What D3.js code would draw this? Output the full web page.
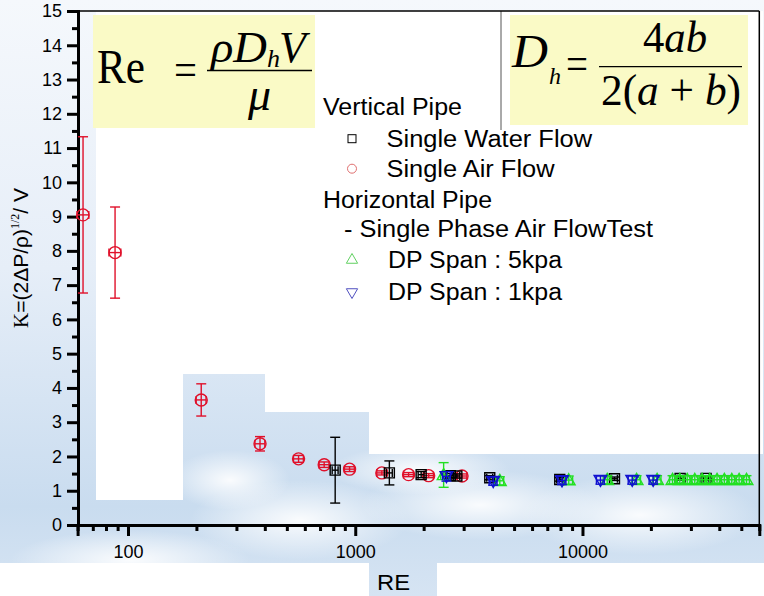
<!DOCTYPE html>
<html>
<head>
<meta charset="utf-8">
<script src="https://cdn.jsdelivr.net/npm/d3@7/dist/d3.min.js"></script>
<style>
html,body{margin:0;padding:0;background:#fff;}
svg{display:block;}
</style>
</head>
<body>
<script>
// ---------------- DATA ----------------
// Vertical pipe, single air flow (red circles)
const airRe   = [63.4, 87.7, 210, 381, 563, 730, 944, 1309, 1717, 2104, 2951];
const airK    = [9.05, 7.95, 3.65, 2.37, 1.93, 1.76, 1.63, 1.52, 1.47, 1.44, 1.43];
const airKErr = [2.28, 1.33, 0.47, 0.21, 0.10, 0.08, 0.07, 0.06, 0.06, 0.06, 0.06];
const airReErr = [0.06, 0.06, 0.05, 0.05, 0.05, 0.05, 0.05, 0.05, 0.05, 0.05, 0.05];

// Vertical pipe, single water flow (black squares)
const waterRe   = [816, 1413, 1950, 2620, 2800, 3908, 7943, 13830, 26900, 35000];
const waterK    = [1.60, 1.52, 1.47, 1.44, 1.43, 1.38, 1.33, 1.35, 1.36, 1.36];
const waterKErr = [0.96, 0.35, 0.09, 0.06, 0.06, 0.06, 0.05, 0.05, 0.05, 0.05];
const waterReErr = [0.03, 0.03, 0.03, 0.03, 0.03, 0.03, 0.03, 0.03, 0.03, 0.03];

// Horizontal pipe, DP span 5kpa (green up triangles)
const span5Re   = [2449, 4327, 8700, 12850, 17300, 21300, 24900, 26800, 28900, 31200, 33600, 36300, 39100, 42100, 45400, 48900, 52700];
const span5K    = [1.46, 1.29, 1.31, 1.32, 1.32, 1.32, 1.32, 1.32, 1.32, 1.32, 1.32, 1.32, 1.32, 1.32, 1.32, 1.32, 1.32];
const span5KErr = [0.36, 0.12, 0.12, 0.12, 0.12, 0.12, 0.12, 0.12, 0.12, 0.12, 0.12, 0.12, 0.12, 0.12, 0.12, 0.12, 0.12];
const span5ReErr = [0.03, 0.04, 0.04, 0.04, 0.04, 0.04, 0.03, 0.03, 0.03, 0.03, 0.03, 0.03, 0.03, 0.03, 0.03, 0.03, 0.03];

// Horizontal pipe, DP span 1kpa (blue down triangles)
const span1Re   = [2520, 4046, 8128, 12000, 16560, 20470];
const span1K    = [1.42, 1.28, 1.30, 1.31, 1.31, 1.31];
const span1KErr = [0.14, 0.12, 0.12, 0.12, 0.12, 0.12];
const span1ReErr = [0.04, 0.04, 0.04, 0.04, 0.04, 0.04];

// Axes
const xDomain = [60, 60000];
const yDomain = [0, 15];
const xMajorTicks = [100, 1000, 10000];
const xMinorTicks = [60,70,80,90,200,300,400,500,600,700,800,900,2000,3000,4000,5000,6000,7000,8000,9000,20000,30000,40000,50000,60000];
const yMajorTicks = d3.range(0, 16, 1);
const yMinorTicks = d3.range(0.5, 15, 1);

const xTitle = "RE";
const legendItems = [
  {text: "Vertical Pipe", kind: "head"},
  {text: "Single Water Flow", kind: "water"},
  {text: "Single Air Flow", kind: "air"},
  {text: "Horizontal Pipe", kind: "head"},
  {text: "- Single Phase Air FlowTest", kind: "sub"},
  {text: "DP Span : 5kpa", kind: "span5"},
  {text: "DP Span : 1kpa", kind: "span1"}
];

// ---------------- CHART ----------------
const W = 764, H = 596;
const svg = d3.select("body").append("svg").attr("width", W).attr("height", H)
  .style("font-family", "Arial, 'Liberation Sans', sans-serif");

const defs = svg.append("defs");
const sky = defs.append("linearGradient").attr("id","sky").attr("x1",0).attr("y1",0).attr("x2",0).attr("y2",1);
sky.append("stop").attr("offset","0").attr("stop-color","#f5f8fc");
sky.append("stop").attr("offset","0.45").attr("stop-color","#e6eef8");
sky.append("stop").attr("offset","0.85").attr("stop-color","#c9dcef");
sky.append("stop").attr("offset","1").attr("stop-color","#d6e4f3");
const cloud = defs.append("radialGradient").attr("id","cloud");
cloud.append("stop").attr("offset","0").attr("stop-color","#ffffff").attr("stop-opacity",0.9);
cloud.append("stop").attr("offset","1").attr("stop-color","#ffffff").attr("stop-opacity",0);

// background sky
svg.append("rect").attr("width",W).attr("height",H).attr("fill","url(#sky)");
[[300,520,110,40],[480,505,120,35],[640,515,120,40],[130,560,120,30],[420,470,90,25],[230,480,60,30]].forEach(c=>{
  svg.append("ellipse").attr("cx",c[0]).attr("cy",c[1]).attr("rx",c[2]).attr("ry",c[3]).attr("fill","url(#cloud)");
});
// white panels
const white = "#ffffff";
[[96,11,87,489],[183,11,580,363],[265,374,498,38],[369,412,394,42],
 [0,563,369,33],[437,563,327,33]].forEach(r=>{
  svg.append("rect").attr("x",r[0]).attr("y",r[1]).attr("width",r[2]).attr("height",r[3]).attr("fill",white);
});

const x = d3.scaleLog().domain(xDomain).range([77.6, 759.3]);
const y = d3.scaleLinear().domain(yDomain).range([525, 11]);

// formula boxes
svg.append("rect").attr("x",93).attr("y",15).attr("width",222).attr("height",113).attr("fill","#fafac6");
svg.append("rect").attr("x",510).attr("y",15).attr("width",238).attr("height",110).attr("fill","#fafac6");
svg.append("line").attr("x1",501).attr("x2",501).attr("y1",11).attr("y2",130).attr("stroke","#555").attr("stroke-width",1);

const serif = "'Times New Roman', 'Liberation Serif', serif";
const f1 = svg.append("g").attr("font-family", serif).attr("fill","#000");
f1.append("text").attr("x",97).attr("y",83).attr("font-size",48).attr("textLength",48).attr("lengthAdjust","spacingAndGlyphs").text("Re");
f1.append("text").attr("x",174).attr("y",85).attr("font-size",46).attr("textLength",23).attr("lengthAdjust","spacingAndGlyphs").text("=");
f1.append("line").attr("x1",207).attr("x2",312).attr("y1",70.5).attr("y2",70.5).attr("stroke","#000").attr("stroke-width",1.3);
f1.append("text").attr("x",211).attr("y",62).attr("font-size",44).attr("font-style","italic").attr("textLength",56).attr("lengthAdjust","spacingAndGlyphs").text("ρD");
f1.append("text").attr("x",267).attr("y",67).attr("font-size",26).attr("font-style","italic").text("h");
f1.append("text").attr("x",279).attr("y",62).attr("font-size",44).attr("font-style","italic").text("V");
f1.append("text").attr("x",248).attr("y",110).attr("font-size",46).attr("font-style","italic").text("μ");

const f2 = svg.append("g").attr("font-family", serif).attr("fill","#000");
f2.append("text").attr("x",512).attr("y",67).attr("font-size",46).attr("font-style","italic").attr("textLength",36).attr("lengthAdjust","spacingAndGlyphs").text("D");
f2.append("text").attr("x",549).attr("y",84).attr("font-size",24).attr("font-style","italic").text("h");
f2.append("text").attr("x",566).attr("y",79).attr("font-size",46).attr("textLength",22).attr("lengthAdjust","spacingAndGlyphs").text("=");
f2.append("line").attr("x1",599).attr("x2",742).attr("y1",66.7).attr("y2",66.7).attr("stroke","#000").attr("stroke-width",1.3);
const num = f2.append("text").attr("x",643).attr("y",52).attr("font-size",44).attr("textLength",64).attr("lengthAdjust","spacingAndGlyphs");
num.append("tspan").text("4");
num.append("tspan").attr("font-style","italic").text("ab");
const den = f2.append("text").attr("x",601).attr("y",105).attr("font-size",44).attr("textLength",140).attr("lengthAdjust","spacingAndGlyphs");
den.append("tspan").text("2(");
den.append("tspan").attr("font-style","italic").text("a");
den.append("tspan").text(" + ");
den.append("tspan").attr("font-style","italic").text("b");
den.append("tspan").text(")");

// axes
const axisFont = 18;
const gx = svg.append("g").attr("transform","translate(0,525)");
gx.call(d3.axisBottom(x).tickValues(xMajorTicks).tickSize(11).tickPadding(9).tickFormat(d3.format("d")));
const gxm = svg.append("g").attr("transform","translate(0,525)");
gxm.call(d3.axisBottom(x).tickValues(xMinorTicks).tickSize(6).tickFormat(""));
const gy = svg.append("g").attr("transform","translate(78,0)");
gy.call(d3.axisLeft(y).tickValues(yMajorTicks).tickSize(11).tickPadding(5).tickFormat(d3.format("d")));
const gym = svg.append("g").attr("transform","translate(78,0)");
gym.call(d3.axisLeft(y).tickValues(yMinorTicks).tickSize(6).tickFormat(""));
[gx,gxm,gy,gym].forEach(g=>{
  g.select(".domain").style("stroke","#000").style("stroke-width","3px");
  g.selectAll(".tick line").style("stroke","#000").style("stroke-width","3px");
  g.selectAll(".tick text").style("font-size",axisFont+"px").style("font-family","Arial, 'Liberation Sans', sans-serif").attr("fill","#000");
});
gxm.select(".domain").remove(); gym.select(".domain").remove();
// frame top/right
svg.append("line").attr("x1",78).attr("x2",759.3).attr("y1",11).attr("y2",11).attr("stroke","#000").attr("stroke-width",1.5);
svg.append("line").attr("x1",759.3).attr("x2",759.3).attr("y1",11).attr("y2",525).attr("stroke","#000").attr("stroke-width",1.5);

// axis titles
svg.append("text").attr("x",377).attr("y",590).attr("font-size",22).attr("textLength",33).attr("lengthAdjust","spacingAndGlyphs").text(xTitle);
const yt = svg.append("text").attr("transform","translate(28,258) rotate(-90)").attr("text-anchor","middle").attr("font-size",21);
yt.append("tspan").attr("font-family",serif).text("K");
yt.append("tspan").text("=(2ΔP/ρ)");
yt.append("tspan").attr("font-size",12).attr("font-family",serif).attr("dy",-9).text("1/2");
yt.append("tspan").attr("dy",9).text("/ V");

// ---------------- SERIES ----------------
const plot = svg.append("g");
function series(re, k, kErr, reErr, color, marker) {
  const data = re.map((d,i)=>({re:d, k:k[i], ke:kErr[i], rx:reErr[i]}));
  const g = plot.append("g").attr("stroke",color).attr("fill","none").attr("stroke-width",1.4);
  const cap = 5;
  data.forEach(d=>{
    const cx = x(d.re), cy = y(d.k);
    const yt = y(d.k + d.ke), yb = y(d.k - d.ke);
    g.append("line").attr("x1",cx).attr("x2",cx).attr("y1",yt).attr("y2",yb);
    g.append("line").attr("x1",cx-cap).attr("x2",cx+cap).attr("y1",yt).attr("y2",yt);
    g.append("line").attr("x1",cx-cap).attr("x2",cx+cap).attr("y1",yb).attr("y2",yb);
    const xl = x(d.re*(1-d.rx)), xr = x(d.re*(1+d.rx));
    g.append("line").attr("x1",xl).attr("x2",xr).attr("y1",cy).attr("y2",cy);
    g.append("line").attr("x1",xl).attr("x2",xl).attr("y1",cy-4).attr("y2",cy+4);
    g.append("line").attr("x1",xr).attr("x2",xr).attr("y1",cy-4).attr("y2",cy+4);
    marker(g, cx, cy);
  });
}
const mCircle = (g,cx,cy)=>g.append("circle").attr("cx",cx).attr("cy",cy).attr("r",6);
const mSquare = (g,cx,cy)=>g.append("path").attr("d",d3.symbol(d3.symbolSquare,100)()).attr("transform",`translate(${cx},${cy})`);
const mUp = (g,cx,cy)=>g.append("path").attr("d",d3.symbol(d3.symbolTriangle,70)()).attr("transform",`translate(${cx},${cy+1})`);
const mDown = (g,cx,cy)=>g.append("path").attr("d",d3.symbol(d3.symbolTriangle,70)()).attr("transform",`translate(${cx},${cy-1}) rotate(180)`);

series(airRe, airK, airKErr, airReErr, "#e0102a", mCircle);
series(waterRe, waterK, waterKErr, waterReErr, "#000000", mSquare);
series(span5Re, span5K, span5KErr, span5ReErr, "#22e022", mUp);
series(span1Re, span1K, span1KErr, span1ReErr, "#1010d0", mDown);

// ---------------- LEGEND ----------------
const legBase = [115, 146.7, 176.7, 208.3, 236.7, 268, 300];
const legX = {head:323, water:386.5, air:386.5, sub:344, span5:388, span1:388};
const legLen = [139, 205.6, 168, 169, 309, 174, 174];
const lg = svg.append("g");
legendItems.forEach((it,i)=>{
  lg.append("text").attr("x",legX[it.kind]).attr("y",legBase[i]).attr("font-size",23)
    .attr("textLength",legLen[i]).attr("lengthAdjust","spacingAndGlyphs").attr("fill","#000").text(it.text);
  const my = legBase[i]-8, mx = 352;
  if (it.kind==="water") lg.append("rect").attr("x",mx-4).attr("y",my-4).attr("width",8).attr("height",8).attr("fill","none").attr("stroke","#000").attr("stroke-width",1);
  if (it.kind==="air") lg.append("circle").attr("cx",mx).attr("cy",my).attr("r",4.5).attr("fill","none").attr("stroke","#e07070").attr("stroke-width",1);
  if (it.kind==="span5") lg.append("path").attr("d",d3.symbol(d3.symbolTriangle,55)()).attr("transform",`translate(${mx},${my})`).attr("fill","none").attr("stroke","#60d060").attr("stroke-width",1);
  if (it.kind==="span1") lg.append("path").attr("d",d3.symbol(d3.symbolTriangle,55)()).attr("transform",`translate(${mx},${my}) rotate(180)`).attr("fill","none").attr("stroke","#5050c0").attr("stroke-width",1);
});
</script>
</body>
</html>
